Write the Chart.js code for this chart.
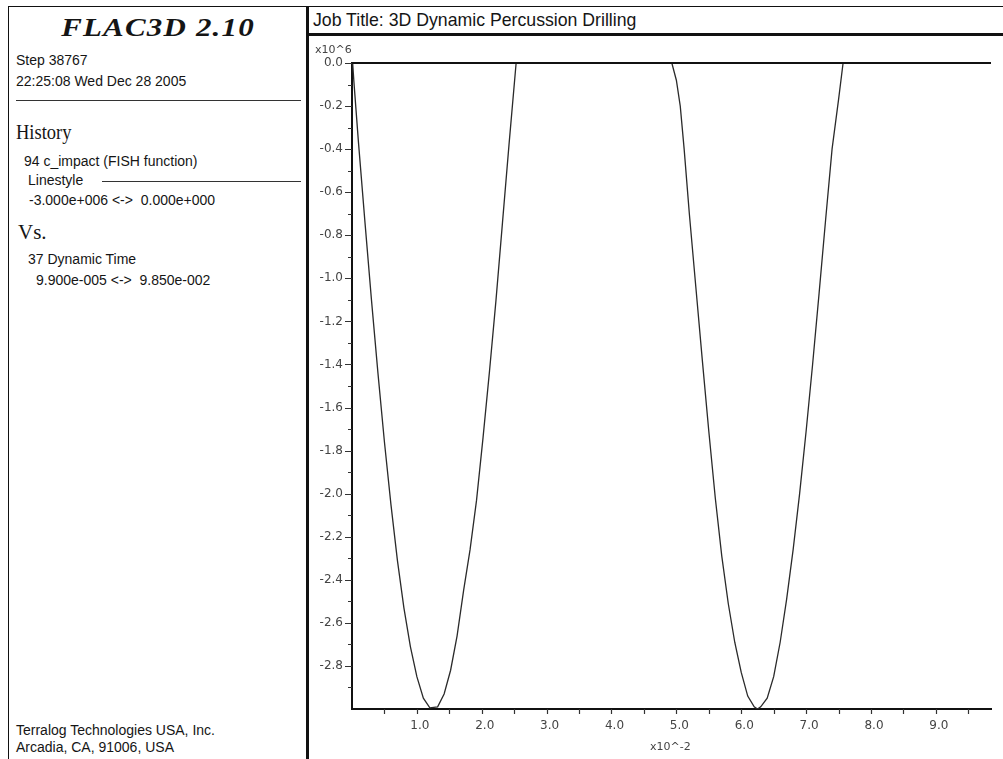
<!DOCTYPE html>
<html>
<head>
<meta charset="utf-8">
<script src="https://cdn.jsdelivr.net/npm/chart.js@4.4.0/dist/chart.umd.min.js"></script>
<style>
  body { margin: 0; background: #fff; }
  #page { position: relative; width: 1003px; height: 759px; overflow: hidden; background: #fff;
          font-family: "Liberation Sans", Arial, sans-serif; color: #151515; }
  .t { position: absolute; white-space: pre; line-height: 1; font-size: 14px; }
  .serif { font-family: "Liberation Serif", "Times New Roman", serif; }
  .ln { position: absolute; background: #111; }
  #plot { position: absolute; left: 310px; top: 36px; width: 693px; height: 723px; }
</style>
</head>
<body>
<div id="page">
  <!-- frame -->
  <div class="ln" style="left:8px; top:6px; width:995px; height:1px;"></div>
  <div class="ln" style="left:8px; top:6px; width:1px; height:753px;"></div>
  <div class="ln" style="left:306px; top:6px; width:3px; height:753px;"></div>
  <div class="ln" style="left:309px; top:33px; width:694px; height:3px;"></div>
  <div class="ln" style="left:16px; top:100px; width:285px; height:1px; background:#333;"></div>
  <div class="ln" style="left:102px; top:181px; width:199px; height:1px; background:#333;"></div>

  <!-- left panel text -->
  <div class="t serif" style="left:8px; top:15px; width:300px; text-align:center; font-size:26px; font-weight:bold; font-style:italic; letter-spacing:1px; transform:scaleX(1.19);">FLAC3D 2.10</div>
  <div class="t" style="left:16px; top:53px;">Step 38767</div>
  <div class="t" style="left:16px; top:74px;">22:25:08 Wed Dec 28 2005</div>
  <div class="t serif" style="left:16px; top:122px; font-size:21px; transform-origin:left; transform:scaleX(0.88);">History</div>
  <div class="t" style="left:24px; top:154px;">94 c_impact (FISH function)</div>
  <div class="t" style="left:28px; top:173px;">Linestyle</div>
  <div class="t" style="left:29px; top:193px;">-3.000e+006 &lt;-&gt;  0.000e+000</div>
  <div class="t serif" style="left:18px; top:222px; font-size:21px;">Vs.</div>
  <div class="t" style="left:28px; top:252px;">37 Dynamic Time</div>
  <div class="t" style="left:36px; top:273px;">9.900e-005 &lt;-&gt;  9.850e-002</div>
  <div class="t" style="left:16px; top:723px;">Terralog Technologies USA, Inc.</div>
  <div class="t" style="left:16px; top:740px;">Arcadia, CA, 91006, USA</div>

  <!-- right panel -->
  <div class="t" style="left:313px; top:12px; font-size:17.7px;">Job Title: 3D Dynamic Percussion Drilling</div>
  <div id="plot"><canvas id="histChart"></canvas></div>
</div>

<script>
// history 94 (c_impact) against history 37 (dynamic time)
// time in units of 1e-2 s, impact in units of 1e6
var timeValues = [
  0.0099, 0.03, 0.1, 0.2, 0.3, 0.4, 0.5, 0.6, 0.7, 0.8, 0.9, 1.0, 1.1, 1.2, 1.32,
  1.42, 1.52, 1.62, 1.72, 1.82, 1.92, 2.02, 2.12, 2.22, 2.32, 2.42, 2.53,
  3.0, 3.5, 4.0, 4.5, 4.93,
  5.0, 5.06, 5.12, 5.2, 5.3, 5.4, 5.5, 5.6, 5.7, 5.8, 5.9, 6.0, 6.1, 6.2, 6.25,
  6.3, 6.4, 6.5, 6.6, 6.7, 6.8, 6.9, 7.0, 7.1, 7.2, 7.3, 7.4, 7.5, 7.57,
  8.0, 8.5, 9.0, 9.5, 9.85
];
var impactValues = [
  0, -0.09, -0.37, -0.74, -1.10, -1.44, -1.76, -2.05, -2.31, -2.53, -2.71, -2.85, -2.95, -2.995, -2.99,
  -2.93, -2.82, -2.66, -2.45, -2.26, -2.03, -1.74, -1.43, -1.10, -0.74, -0.38, 0,
  0, 0, 0, 0, 0,
  -0.08, -0.20, -0.40, -0.70, -1.04, -1.38, -1.71, -2.02, -2.29, -2.51, -2.69, -2.83, -2.94, -2.99, -3.0,
  -2.99, -2.95, -2.85, -2.69, -2.49, -2.26, -2.00, -1.71, -1.40, -1.07, -0.73, -0.40, -0.17, 0,
  0, 0, 0, 0, 0
];

// axis ticks
var xLabelValues = [1.0, 2.0, 3.0, 4.0, 5.0, 6.0, 7.0, 8.0, 9.0];
var xMinorValues = [0.5, 1.5, 2.5, 3.5, 4.5, 5.5, 6.5, 7.5, 8.5, 9.5];
var yLabelValues = [0.0, -0.2, -0.4, -0.6, -0.8, -1.0, -1.2, -1.4, -1.6, -1.8, -2.0, -2.2, -2.4, -2.6, -2.8];
var yMinorValues = [-0.1, -0.3, -0.5, -0.7, -0.9, -1.1, -1.3, -1.5, -1.7, -1.9, -2.1, -2.3, -2.5, -2.7, -2.9];

var points = timeValues.map(function (t, i) { return { x: t, y: impactValues[i] }; });

var tickFont = { family: '"DejaVu Sans", Verdana, sans-serif', size: 12 };
var tickColor = '#444';

// frame top line, tick marks and exponent labels
var framePlugin = {
  id: 'frame',
  afterDraw: function (chart) {
    var ctx = chart.ctx;
    var xs = chart.scales.x, ys = chart.scales.y;
    var area = chart.chartArea;
    ctx.save();
    ctx.strokeStyle = '#111';
    ctx.lineWidth = 2;
    ctx.beginPath();
    ctx.moveTo(area.left - 1, ys.getPixelForValue(0));
    ctx.lineTo(area.right, ys.getPixelForValue(0));
    ctx.stroke();

    ctx.lineWidth = 1.2;
    ctx.strokeStyle = '#333';
    ctx.beginPath();
    yLabelValues.forEach(function (v) {
      var p = Math.round(ys.getPixelForValue(v)) + 0.5;
      ctx.moveTo(area.left - 7, p); ctx.lineTo(area.left, p);
    });
    yMinorValues.forEach(function (v) {
      var p = Math.round(ys.getPixelForValue(v)) + 0.5;
      ctx.moveTo(area.left - 4, p); ctx.lineTo(area.left, p);
    });
    xLabelValues.concat(xMinorValues).forEach(function (v) {
      var p = Math.round(xs.getPixelForValue(v)) + 0.5;
      ctx.moveTo(p, area.bottom); ctx.lineTo(p, area.bottom + 5);
    });
    ctx.stroke();

    ctx.fillStyle = tickColor;
    ctx.font = '11px "DejaVu Sans", Verdana, sans-serif';
    ctx.textBaseline = 'alphabetic';
    ctx.textAlign = 'left';
    ctx.fillText('x10^6', area.left - 37, area.top - 10);
    ctx.fillText('x10^-2', area.left + 298, area.bottom + 41);
    ctx.restore();
  }
};

var ctx = document.getElementById('histChart').getContext('2d');
var histChart = new Chart(ctx, {
  type: 'line',
  data: {
    datasets: [{
      label: 'c_impact',
      data: points,
      borderColor: '#2a2a2a',
      borderWidth: 1.3,
      pointRadius: 0,
      tension: 0,
      fill: false
    }]
  },
  options: {
    responsive: true,
    maintainAspectRatio: false,
    animation: false,
    layout: { padding: { left: 0, top: 27, right: 12, bottom: 0 } },
    plugins: { legend: { display: false }, tooltip: { enabled: false } },
    scales: {
      x: {
        type: 'linear',
        min: 0,
        max: 9.85,
        afterFit: function (s) { s.height = 50; },
        afterBuildTicks: function (s) { s.ticks = xLabelValues.map(function (v) { return { value: v }; }); },
        grid: { display: false, drawTicks: false },
        border: { display: true, color: '#111', width: 2 },
        ticks: {
          autoSkip: false,
          maxRotation: 0,
          padding: 10,
          labelOffset: 3,
          color: tickColor,
          font: tickFont,
          callback: function (v) { return Number(v).toFixed(1); }
        }
      },
      y: {
        type: 'linear',
        min: -3.0,
        max: 0,
        afterFit: function (s) { s.width = 42; },
        afterBuildTicks: function (s) { s.ticks = yLabelValues.map(function (v) { return { value: v }; }); },
        grid: { display: false, drawTicks: false },
        border: { display: true, color: '#111', width: 2 },
        ticks: {
          autoSkip: false,
          padding: 9,
          color: tickColor,
          font: tickFont,
          callback: function (v) { return Number(v).toFixed(1); }
        }
      }
    }
  },
  plugins: [framePlugin]
});
</script>
</body>
</html>
